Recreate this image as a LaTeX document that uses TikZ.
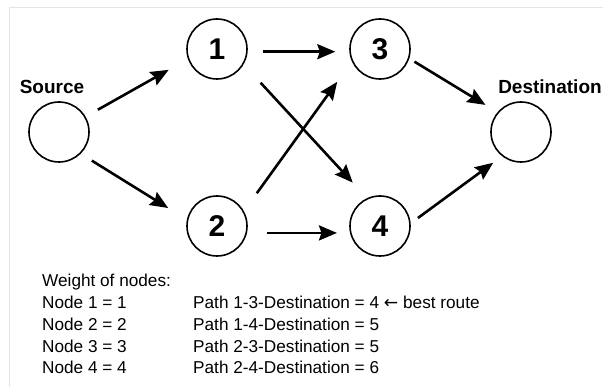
\documentclass[tikz,border=0pt]{standalone}
\usepackage{fontspec}
\setmainfont{Liberation Sans}
\newfontfamily\symbolfont{DejaVu Sans}
\usepackage{tikz}
\usetikzlibrary{positioning, arrows.meta}
\tikzstyle{vertex} = [circle, 
minimum size=60pt, 
inner sep=0pt, 
line width=1.6pt, 
font=\fontsize{30}{30}\selectfont\bfseries, 
draw=black]
\tikzstyle{lbl} = [inner sep=0pt, 
font=\fontsize{19}{19}\selectfont\bfseries]
\tikzstyle{txt} = [inner sep=0pt, 
anchor=base west, 
font=\fontsize{17.2}{20}\selectfont]
\tikzstyle{arrow} = [line width=2.6pt,-{Stealth[length=18pt, width=15pt, inset=2.5pt]}]

\begin{document}
\begin{tikzpicture}[x=1pt, y=-1pt]
			\useasboundingbox (0,0) rectangle (603,387);
			\draw [black!10, line width=0.8pt] (9,387) -- (9,7) -- (603,7);
			
			\node (src)[vertex] at (59,132) {};
			\node (srcLabel)[lbl, above=7pt of src, xshift=-7pt] {Source};
			
			\node (n1)[vertex] at (217,49) {1};
			\node (n2)[vertex] at (217,226) {2};
			\node (n3)[vertex] at (380,49) {3};
			\node (n4)[vertex] at (380,226) {4};
			
			\node (dst)[vertex] at (521,132) {};
			\node (dstLabel)[lbl, above=7pt of dst, xshift=29pt] {Destination};
			
			\draw [arrow, shorten <=14pt, shorten >=22pt] (src.30.6) -- (n1.199.4);
			\draw [arrow, shorten <=13pt, shorten >=22pt] (src.-45.5) -- (n2.168.5);
			\draw [arrow, shorten <=15pt, shorten >=14pt] (n1.-5) -- (n3.185);
			\draw [arrow, shorten <=25pt, shorten >=21pt] (n1.-30.4) -- (n4.115.6);
			\draw [arrow, shorten <=22pt, shorten >=25pt] (n2.29.1) -- (n3.204);
			\draw [arrow, shorten <=20pt, shorten >=13pt] (n2.-13) -- (n4.193);
			\draw [arrow, shorten <=6pt, shorten >=14pt] (n3.-18) -- (dst.140.8);
			\draw [arrow, shorten <=9pt, shorten >=11pt] (n4.5.2) -- (dst.232.7);
			
			\node (weights)[txt] at (42,287) {Weight of nodes:};
			\node (w1)[txt] at (42,308.75) {Node 1 = 1};
			\node (w2)[txt] at (42,330.5) {Node 2 = 2};
			\node (w3)[txt] at (42,352.25) {Node 3 = 3};
			\node (w4)[txt] at (42,374) {Node 4 = 4};
			
			\node (p13)[txt] at (193,308.75) {Path 1-3-Destination = 4 {\symbolfont ←} best route};
			\node (p14)[txt] at (193,330.5) {Path 1-4-Destination = 5};
			\node (p23)[txt] at (193,352.25) {Path 2-3-Destination = 5};
			\node (p24)[txt] at (193,374) {Path 2-4-Destination = 6};
		\end{tikzpicture}
\end{document}
